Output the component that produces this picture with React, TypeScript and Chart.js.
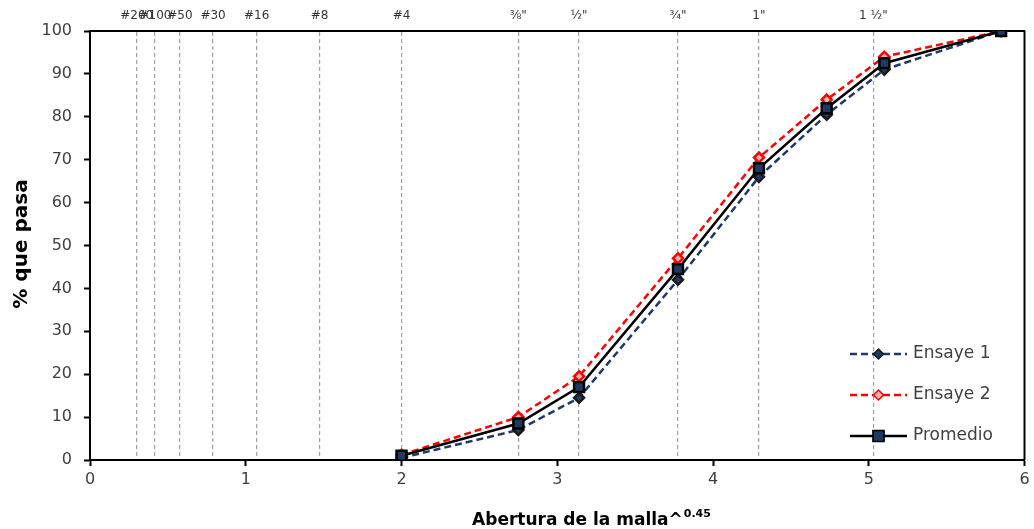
import React, { useEffect, useRef } from "react";
import { Chart, registerables } from "chart.js";

Chart.register(...registerables);

// Sieve positions (abertura^0.45) and their labels along the top
const sieveNames = ["#200", "#100", "#50", "#30", "#16", "#8", "#4", "⅜\"", "½\"", "¾\"", "1\"", "1 ½\""];
const sievePositions = [0.3, 0.417, 0.577, 0.79, 1.07, 1.474, 2.0, 2.75, 3.14, 3.775, 4.295, 5.03];

// Data points
const xValues = [2.0, 2.75, 3.14, 3.775, 4.295, 4.73, 5.1, 5.85];
const ensaye1 = [0.5, 7, 14.5, 42, 66, 80.5, 91, 100];
const ensaye2 = [1.2, 10, 19.5, 47, 70.5, 84, 94, 100];
const promedio = [1, 8.5, 17, 44.5, 68, 82, 92.5, 100];

const FONT = "'Century Gothic', 'DejaVu Sans', sans-serif";
const NAVY = "#1f3864";
const RED = "#ff0000";

const pts = (ys: number[]) => xValues.map((x, i) => ({ x, y: ys[i] }));

function drawMarker(ctx: CanvasRenderingContext2D, style: string, x: number, y: number, r: number, fill: string, stroke: string) {
  ctx.save();
  ctx.setLineDash([]);
  ctx.fillStyle = fill;
  ctx.strokeStyle = stroke;
  ctx.lineWidth = 1.5;
  ctx.beginPath();
  if (style === "rectRot") {
    ctx.moveTo(x, y - r);
    ctx.lineTo(x + r, y);
    ctx.lineTo(x, y + r);
    ctx.lineTo(x - r, y);
    ctx.closePath();
  } else {
    ctx.rect(x - r * 0.8, y - r * 0.8, r * 1.6, r * 1.6);
  }
  ctx.fill();
  ctx.stroke();
  ctx.restore();
}

const decorPlugin = {
  id: "decor",
  afterDraw(chart: any) {
    const ctx: CanvasRenderingContext2D = chart.ctx;
    const a = chart.chartArea;
    ctx.save();
    // right frame
    ctx.strokeStyle = "#000";
    ctx.lineWidth = 2;
    ctx.beginPath();
    ctx.moveTo(a.right, a.top);
    ctx.lineTo(a.right, a.bottom);
    ctx.stroke();

    // legend inside plot
    const ds = chart.data.datasets;
    const x0 = a.left + 760;
    const x1 = a.left + 817;
    const xm = (x0 + x1) / 2;
    ds.forEach((d: any, i: number) => {
      const y = a.top + 323 + i * 41;
      ctx.save();
      ctx.strokeStyle = d.borderColor;
      ctx.lineWidth = d.borderWidth;
      ctx.setLineDash(d.borderDash || []);
      ctx.beginPath();
      ctx.moveTo(x0, y);
      ctx.lineTo(x1, y);
      ctx.stroke();
      ctx.restore();
      drawMarker(ctx, d.pointStyle, xm, y, d.pointRadius, d.pointBackgroundColor, d.pointBorderColor);
      ctx.fillStyle = "#404040";
      ctx.font = `17px ${FONT}`;
      ctx.textAlign = "left";
      ctx.textBaseline = "middle";
      ctx.fillText(d.label, x1 + 6, y);
    });

    // axis titles
    ctx.fillStyle = "#000";
    ctx.font = `bold 20px ${FONT}`;
    ctx.save();
    ctx.translate(22, 244);
    ctx.rotate(-Math.PI / 2);
    ctx.textAlign = "center";
    ctx.textBaseline = "middle";
    ctx.fillText("% que pasa", 0, 0);
    ctx.restore();

    const main = "Abertura de la malla^";
    const sup = "0.45";
    ctx.font = `bold 17px ${FONT}`;
    const w1 = ctx.measureText(main).width;
    ctx.font = `bold 11px ${FONT}`;
    const w2 = ctx.measureText(sup).width;
    const startX = 591 - (w1 + w2) / 2;
    ctx.textAlign = "left";
    ctx.textBaseline = "alphabetic";
    ctx.font = `bold 17px ${FONT}`;
    ctx.fillText(main, startX, 525);
    ctx.font = `bold 11px ${FONT}`;
    ctx.fillText(sup, startX + w1 + 1, 517);
    ctx.restore();
  },
};

export default function App() {
  const ref = useRef<HTMLCanvasElement | null>(null);
  useEffect(() => {
    if (!ref.current) return;
    const chart = new Chart(ref.current, {
      type: "scatter",
      data: {
        datasets: [
          {
            label: "Ensaye 1",
            data: pts(ensaye1),
            showLine: true,
            borderColor: NAVY,
            borderWidth: 2.5,
            borderDash: [7, 4],
            pointStyle: "rectRot",
            pointRadius: 5,
            pointBackgroundColor: NAVY,
            pointBorderColor: "#1a1a1a",
            order: 3,
          },
          {
            label: "Ensaye 2",
            data: pts(ensaye2),
            showLine: true,
            borderColor: RED,
            borderWidth: 2.5,
            borderDash: [7, 4],
            pointStyle: "rectRot",
            pointRadius: 5,
            pointBackgroundColor: "#ffb0b0",
            pointBorderColor: RED,
            order: 2,
          },
          {
            label: "Promedio",
            data: pts(promedio),
            showLine: true,
            borderColor: "#000",
            borderWidth: 2.5,
            pointStyle: "rect",
            pointRadius: 7,
            pointBackgroundColor: NAVY,
            pointBorderColor: "#000",
            order: 1,
          },
        ] as any,
      },
      options: {
        animation: false,
        responsive: false,
        maintainAspectRatio: false,
        layout: { padding: { left: 0, right: 8, top: 0, bottom: 0 } },
        plugins: { legend: { display: false }, tooltip: { enabled: false } },
        scales: {
          x: {
            type: "linear",
            position: "bottom",
            min: 0,
            max: 6,
            ticks: { stepSize: 1, color: "#404040", font: { family: FONT, size: 16 }, padding: 4 },
            grid: { drawOnChartArea: false, drawTicks: true, tickLength: 6, tickColor: "#000", tickWidth: 2 },
            border: { color: "#000", width: 2 },
            afterFit: (s: any) => { s.height = 69; },
          },
          x2: {
            type: "linear",
            position: "top",
            min: 0,
            max: 6,
            afterBuildTicks: (s: any) => { s.ticks = sievePositions.map((v) => ({ value: v })); },
            ticks: {
              autoSkip: false,
              maxRotation: 0,
              color: "#333",
              font: { family: FONT, size: 12 },
              padding: 8,
              callback: (_v: any, i: number) => sieveNames[i],
            },
            grid: { drawOnChartArea: true, drawTicks: false, color: "#a0a0a0", lineWidth: 1.2 },
            border: { color: "#000", width: 2, dash: [4, 3] },
            afterFit: (s: any) => { s.height = 31; },
          },
          y: {
            type: "linear",
            min: 0,
            max: 100,
            ticks: { stepSize: 10, color: "#404040", font: { family: FONT, size: 16 }, padding: 12 },
            grid: { drawOnChartArea: false, drawTicks: true, tickLength: 6, tickColor: "#000", tickWidth: 2 },
            border: { color: "#000", width: 2 },
            afterFit: (s: any) => { s.width = 90; },
          },
        },
      } as any,
      plugins: [decorPlugin],
    });
    return () => chart.destroy();
  }, []);
  return (
    <div style={{ position: "fixed", left: 0, top: 0, width: 1034, height: 529, background: "#fff" }}>
      <canvas ref={ref} width={1034} height={529} style={{ width: 1034, height: 529 }} />
    </div>
  );
}
